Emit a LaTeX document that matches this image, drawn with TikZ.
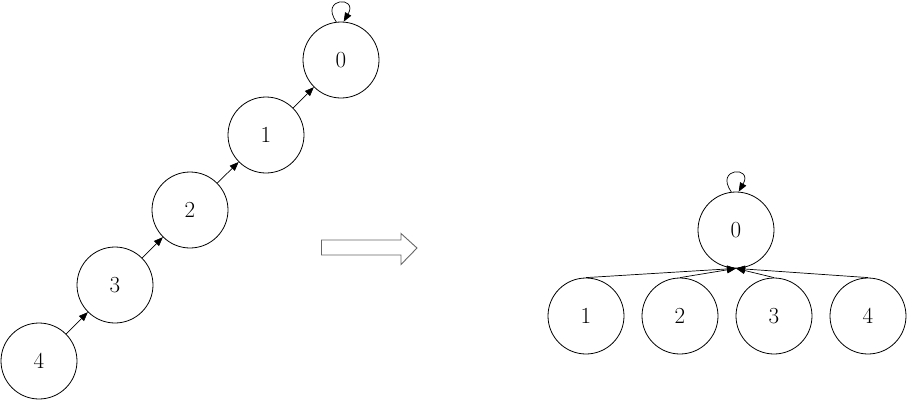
\documentclass[tikz,border=0pt]{standalone}
\usetikzlibrary{arrows.meta}
\begin{document}
\begin{tikzpicture}[x=1pt,y=-1pt,
  vert/.style={circle,draw,line width=0.8pt,minimum size=76pt,inner sep=0pt,font=\fontsize{23}{25}\selectfont},
  edge/.style={line width=0.7pt,-{Triangle[length=9pt,width=7pt]}},
  bigarrow/.style={draw=black!60,line width=0.9pt}]
\useasboundingbox (0,0) rectangle (908,400);
% left chain
\node[vert] (a0) at (341,60) {0};
\node[vert] (a1) at (266,135) {1};
\node[vert] (a2) at (190,210) {2};
\node[vert] (a3) at (115,285) {3};
\node[vert] (a4) at (39,361) {4};
\draw[edge] (a4) -- (a3);
\draw[edge] (a3) -- (a2);
\draw[edge] (a2) -- (a1);
\draw[edge] (a1) -- (a0);
\draw[edge] (a0.97) .. controls +(-125:30) and +(-60:30) .. (a0.86);
% big arrow
\draw[bigarrow] (321.5,240) -- (401,240) -- (401,233.5) -- (417,248) -- (401,264.5) -- (401,255) -- (321.5,255) -- cycle;
% right tree
\node[vert] (b0) at (736,230) {0};
\node[vert] (b1) at (586,316) {1};
\node[vert] (b2) at (680,316) {2};
\node[vert] (b3) at (774,316) {3};
\node[vert] (b4) at (868,316) {4};
\draw[edge] (b0.97) .. controls +(-125:30) and +(-60:30) .. (b0.86);
\draw[edge] (b1.north) -- (b0.south);
\draw[edge] (b2.north) -- (b0.south);
\draw[edge] (b3.north) -- (b0.south);
\draw[edge] (b4.north) -- (b0.south);
\end{tikzpicture}
\end{document}
